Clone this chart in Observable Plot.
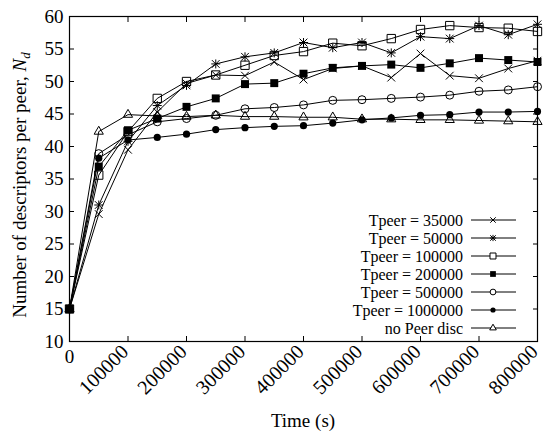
<!DOCTYPE html>
<html><head><meta charset="utf-8">
<script src="https://cdn.jsdelivr.net/npm/d3@7"></script>
<script src="https://cdn.jsdelivr.net/npm/@observablehq/plot@0.6"></script>
<style>
body{margin:0;background:#fff}
svg{font-family:"Liberation Serif","Times New Roman",serif}
</style>
</head><body><div id="chart"></div>
<script>
// ---- data ----
const times = [0,50000,100000,150000,200000,250000,300000,350000,400000,450000,500000,550000,600000,650000,700000,750000,800000];
const seriesNames = ["Tpeer = 35000","Tpeer = 50000","Tpeer = 100000","Tpeer = 200000","Tpeer = 500000","Tpeer = 1000000","no Peer disc"];
const tpeer35000   = [15,29.6,39.5,45.3,49.7,51.0,50.9,53.0,50.3,52.0,52.4,50.6,54.3,50.9,50.5,52.0,53.2];
const tpeer50000   = [15,31.0,40.8,46.3,49.4,52.7,53.8,54.4,56.0,55.2,56.0,54.4,56.9,56.6,58.6,57.2,58.8];
const tpeer100000  = [15,35.6,42.3,47.4,50.0,51.0,52.5,54.0,54.6,55.9,55.5,56.6,58.0,58.6,58.3,58.2,57.7];
const tpeer200000  = [15,36.9,42.5,44.3,46.1,47.4,49.6,49.75,51.2,52.1,52.4,52.6,52.1,52.8,53.6,53.3,53.0];
const tpeer500000  = [15,38.9,41.8,43.8,44.3,44.8,45.8,46.0,46.4,47.1,47.2,47.4,47.6,47.9,48.5,48.7,49.2];
const tpeer1000000 = [15,38.2,41.0,41.4,41.9,42.6,42.9,43.1,43.2,43.6,44.1,44.4,44.8,44.9,45.3,45.3,45.4];
const noPeerDisc   = [15,42.3,44.9,44.7,44.6,44.8,44.6,44.6,44.5,44.5,44.2,44.2,44.1,44.1,44.0,43.9,43.8];
const xTicks = [0,100000,200000,300000,400000,500000,600000,700000,800000];
const yTicks = [10,15,20,25,30,35,40,45,50,55,60];
const xLabel = "Time (s)";
const yLabel = "Number of descriptors per peer, ";

// ---- styling of markers ----
const allValues = [tpeer35000,tpeer50000,tpeer100000,tpeer200000,tpeer500000,tpeer1000000,noPeerDisc];
const markers = [
  [{symbol:"times", r:3.6, fill:"none", stroke:"#000"}],
  [{symbol:"times", r:3.6, fill:"none", stroke:"#000"},{symbol:"plus", r:3.0, fill:"none", stroke:"#000"}],
  [{symbol:"square", r:4.7, fill:"none", stroke:"#000"}],
  [{symbol:"square", r:4.5, fill:"#000", stroke:"none"}],
  [{symbol:"circle", r:4.0, fill:"none", stroke:"#000"}],
  [{symbol:"circle", r:3.6, fill:"#000", stroke:"none"}],
  [{symbol:"triangle", r:3.4, fill:"none", stroke:"#000"}]
];

const table = seriesNames.flatMap((name, s) => times.map((t, i) => ({series: name, s, time: t, value: allValues[s][i]})));

const dotMarks = [];
seriesNames.forEach((name, s) => {
  markers[s].forEach(m => {
    dotMarks.push(Plot.dot(table.filter(d => d.s === s), {x: "time", y: "value", symbol: m.symbol, r: m.r, fill: m.fill, stroke: m.stroke, strokeWidth: 1}));
  });
});

const W = 543, H = 433;
const chart = Plot.plot({
  width: W, height: H,
  marginLeft: 69, marginRight: 6, marginTop: 16, marginBottom: 92,
  style: {fontFamily: "'Liberation Serif', serif", fontSize: "19px", color: "#000", background: "#fff"},
  x: {domain: [0, 800000]},
  y: {domain: [10, 60]},
  marks: [
    Plot.axisY({anchor: "left", ticks: yTicks, tickSize: -5, tickPadding: 11, label: null, tickFormat: d => String(d)}),
    Plot.axisY({anchor: "right", ticks: yTicks, tickSize: -5, label: null, tickFormat: () => ""}),
    Plot.axisX({anchor: "bottom", ticks: xTicks, tickSize: -5, label: null, tickFormat: () => ""}),
    Plot.axisX({anchor: "bottom", ticks: xTicks.filter(t => t > 0), tickSize: 0, tickPadding: 7, dx: -3, fontSize: 20, tickRotate: -45, label: null, tickFormat: d => String(d)}),
    Plot.axisX({anchor: "bottom", ticks: xTicks.filter(t => t === 0), tickSize: 0, tickPadding: 8, label: null, tickFormat: d => String(d)}),
    Plot.axisX({anchor: "top", ticks: xTicks, tickSize: -5, label: null, tickFormat: () => ""}),
    Plot.line(table, {x: "time", y: "value", z: "series", stroke: "#000", strokeWidth: 1}),
    ...dotMarks,
    Plot.frame({stroke: "#000", strokeWidth: 1.2})
  ]
});
document.getElementById("chart").appendChild(chart);

// ---- axis titles and legend ----
const svg = d3.select(chart);
svg.append("text").attr("x", 303).attr("y", 427).attr("text-anchor", "middle")
  .attr("font-size", 19).attr("fill", "#000").text(xLabel);
const yl = svg.append("text").attr("transform", "translate(26,185) rotate(-90)")
  .attr("text-anchor", "middle").attr("font-size", 19).attr("fill", "#000");
yl.append("tspan").text(yLabel);
yl.append("tspan").attr("font-style", "italic").text("N");
yl.append("tspan").attr("font-style", "italic").attr("font-size", 13).attr("dy", 4).text("d");

const symMap = {times: d3.symbolTimes, plus: d3.symbolPlus, square: d3.symbolSquare, circle: d3.symbolCircle, triangle: d3.symbolTriangle};
const lg = svg.append("g");
seriesNames.forEach((name, s) => {
  const y = 220 + s * 18;
  lg.append("text").attr("x", 463).attr("y", y).attr("dy", "0.35em").attr("text-anchor", "end")
    .attr("font-size", 16).attr("fill", "#000").text(name);
  lg.append("line").attr("x1", 471).attr("x2", 516).attr("y1", y).attr("y2", y).attr("stroke", "#000").attr("stroke-width", 1);
  markers[s].forEach(m => {
    const rr = m.r * 0.72;
    lg.append("path").attr("d", d3.symbol(symMap[m.symbol], Math.PI * rr * rr)())
      .attr("transform", `translate(493,${y})`).attr("fill", m.fill === "none" ? "#fff" : m.fill)
      .attr("stroke", m.stroke).attr("stroke-width", 1);
  });
});
</script>
</body></html>
